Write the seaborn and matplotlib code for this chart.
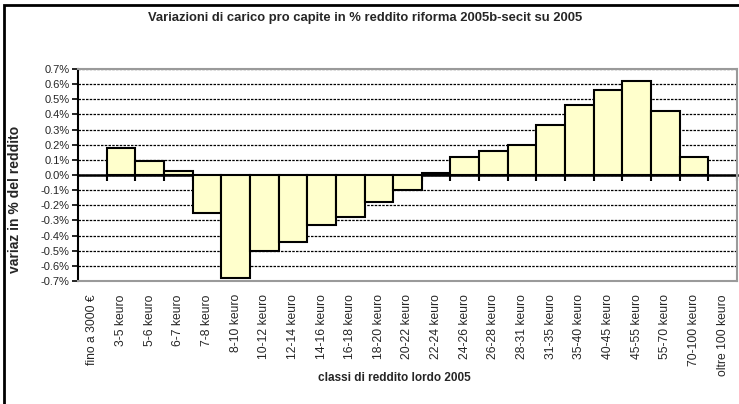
import matplotlib
matplotlib.use("Agg")
import matplotlib.pyplot as plt
import matplotlib.patches as mpatches
from matplotlib.ticker import FuncFormatter
import pandas as pd
import seaborn as sns

categories = ["fino a 3000 €", "3-5 keuro", "5-6 keuro", "6-7 keuro", "7-8 keuro",
              "8-10 keuro", "10-12 keuro", "12-14 keuro", "14-16 keuro", "16-18 keuro",
              "18-20 keuro", "20-22 keuro", "22-24 keuro", "24-26 keuro", "26-28 keuro",
              "28-31 keuro", "31-35 keuro", "35-40 keuro", "40-45 keuro", "45-55 keuro",
              "55-70 keuro", "70-100 keuro", "oltre 100 keuro"]
# classes with a bar (first and last class have none)
bar_classes = categories[1:22]
variaz = [0.18, 0.09, 0.025, -0.25, -0.68, -0.50, -0.44, -0.33, -0.28, -0.18,
          -0.10, 0.01, 0.12, 0.16, 0.20, 0.33, 0.46, 0.56, 0.62, 0.42, 0.12]
y_ticks = [-0.7, -0.6, -0.5, -0.4, -0.3, -0.2, -0.1, 0.0, 0.1, 0.2, 0.3, 0.4, 0.5, 0.6, 0.7]

title = "Variazioni di carico pro capite in % reddito riforma 2005b-secit su 2005"
x_title = "classi di reddito lordo 2005"
y_title = "variaz in % del reddito"

df = pd.DataFrame({"classe": bar_classes, "variaz": variaz})

sns.set_style("white")
plt.rcParams["font.family"] = ["Liberation Sans", "DejaVu Sans"]

fig = plt.figure(figsize=(7.39, 4.04), dpi=100)
ax = fig.add_axes([78 / 739, 1 - 281 / 404, (737 - 78) / 739, (281 - 69) / 404])

sns.barplot(data=df, x="classe", y="variaz", order=categories, width=1.0,
            color="#FFFFCC", saturation=1, edgecolor="black", linewidth=1.5,
            errorbar=None, ax=ax)

ax.set_ylim(-0.7, 0.7)
ax.set_xlim(-0.5, len(categories) - 0.5)
ax.set_yticks(y_ticks)
ax.yaxis.set_major_formatter(FuncFormatter(lambda v, p: f"{v:.1f}%"))
ax.set_axisbelow(True)
ax.yaxis.grid(True, color="black", linestyle=(0, (2, 1)), linewidth=0.9)
ax.xaxis.grid(False)

for side in ["top", "bottom", "right"]:
    ax.spines[side].set_color("#9a9a9a")
    ax.spines[side].set_linewidth(1.5)
ax.spines["left"].set_color("black")
ax.spines["left"].set_linewidth(1.5)

ax.tick_params(axis="y", left=True, direction="out", length=4, width=1.2,
               labelsize=8, pad=2, color="black")
ax.tick_params(axis="x", bottom=False, labelsize=8.7, pad=6)
plt.setp(ax.get_xticklabels(), rotation=90)
ax.set_xlabel("")
ax.set_ylabel("")

# category-axis crossing at 0 with ticks between the classes
sec = ax.secondary_xaxis(0.5)
sec.set_alignment("bottom")
sec.set_xticks([i + 0.5 for i in range(len(categories))])
sec.tick_params(axis="x", direction="out", length=4, width=1.5, labelbottom=False,
                color="black")
sec.spines["bottom"].set_linewidth(1.8)
sec.spines["bottom"].set_color("black")

fig.text(365 / 739, 1 - 18 / 404, title, ha="center", va="center",
         fontsize=9.4, fontweight="bold", family=["Liberation Sans Narrow", "Liberation Sans"])
fig.text(394 / 739, 1 - 378 / 404, x_title, ha="center", va="center",
         fontsize=8.5, fontweight="bold", family=["Liberation Sans Narrow", "Liberation Sans"])
fig.text(15 / 739, 1 - 199 / 404, y_title, ha="center", va="center", rotation=90,
         fontsize=10, fontweight="bold")

# chart area frame (cut at the right and bottom edges)
fig.patches.append(mpatches.Rectangle((4 / 739, -0.1), 1.2, 1.1 - 5 / 404,
                                      transform=fig.transFigure, fill=False,
                                      edgecolor="black", linewidth=2))

fig.savefig("out.png", dpi=100)
